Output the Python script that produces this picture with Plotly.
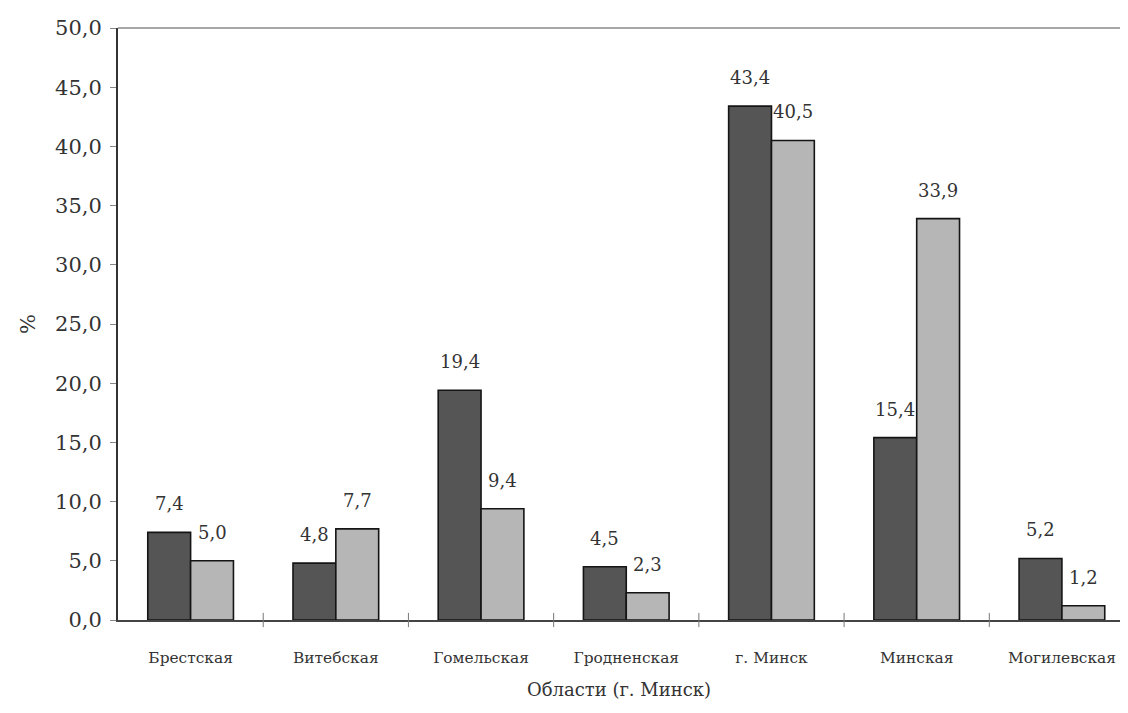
import plotly.graph_objects as go

regions = ["Брестская", "Витебская", "Гомельская", "Гродненская", "г. Минск", "Минская", "Могилевская"]
series_a = [7.4, 4.8, 19.4, 4.5, 43.4, 15.4, 5.2]
series_b = [5.0, 7.7, 9.4, 2.3, 40.5, 33.9, 1.2]
y_ticks = [0, 5, 10, 15, 20, 25, 30, 35, 40, 45, 50]

BAR_W = 0.295
FONT = "DejaVu Serif"
TXT = "#333333"

fig = go.Figure()
xs = list(range(len(regions)))
for vals, color, off in [(series_a, "#555555", -BAR_W), (series_b, "#b6b6b6", 0.0)]:
    fig.add_trace(go.Bar(
        x=xs, y=vals, width=BAR_W, offset=off,
        marker=dict(color=color, line=dict(color="#151515", width=1.6)),
        showlegend=False,
    ))
    for i, v in enumerate(vals):
        fig.add_annotation(
            x=i + off + BAR_W / 2, y=v, text=f"{v:.1f}".replace(".", ","),
            showarrow=False, yanchor="bottom", yshift=16,
            font=dict(family=FONT, size=18, color=TXT),
        )

fig.update_layout(
    width=1112, height=697,
    margin=dict(l=110, r=0, t=20, b=85),
    paper_bgcolor="white", plot_bgcolor="white",
    separators=", ",
    font=dict(family=FONT, color=TXT),
    xaxis=dict(
        range=[-0.5, 6.40], automargin=False,
        tickmode="array", tickvals=xs, ticktext=regions,
        ticklabeloverflow="allow", ticklabelstandoff=23,
        showline=True, linecolor="#444444", linewidth=1.5,
        showgrid=False, zeroline=False,
        tickfont=dict(family=FONT, size=15.4, color=TXT),
        title=dict(text="Области (г. Минск)", font=dict(family=FONT, size=18, color=TXT), standoff=17),
    ),
    yaxis=dict(
        range=[0, 50], tickvals=y_ticks, tickformat=".1f", automargin=False,
        showline=True, linecolor="#333333", linewidth=2,
        ticks="outside", ticklen=6, tickcolor="#888888", ticklabelstandoff=4,
        showgrid=False, zeroline=False,
        tickfont=dict(family=FONT, size=21, color=TXT),
        title=dict(text="%", font=dict(family=FONT, size=21, color=TXT), standoff=14),
    ),
)
for i in range(len(regions) - 1):
    fig.add_shape(type="line", xref="x", yref="paper", x0=i + 0.5, x1=i + 0.5, y0=-0.012, y1=0.012,
                  line=dict(color="#777777", width=1))
fig.add_shape(type="line", xref="paper", yref="paper", x0=0, x1=1, y0=1, y1=1,
              line=dict(color="#888888", width=1.5))

fig.write_html("out.html")
